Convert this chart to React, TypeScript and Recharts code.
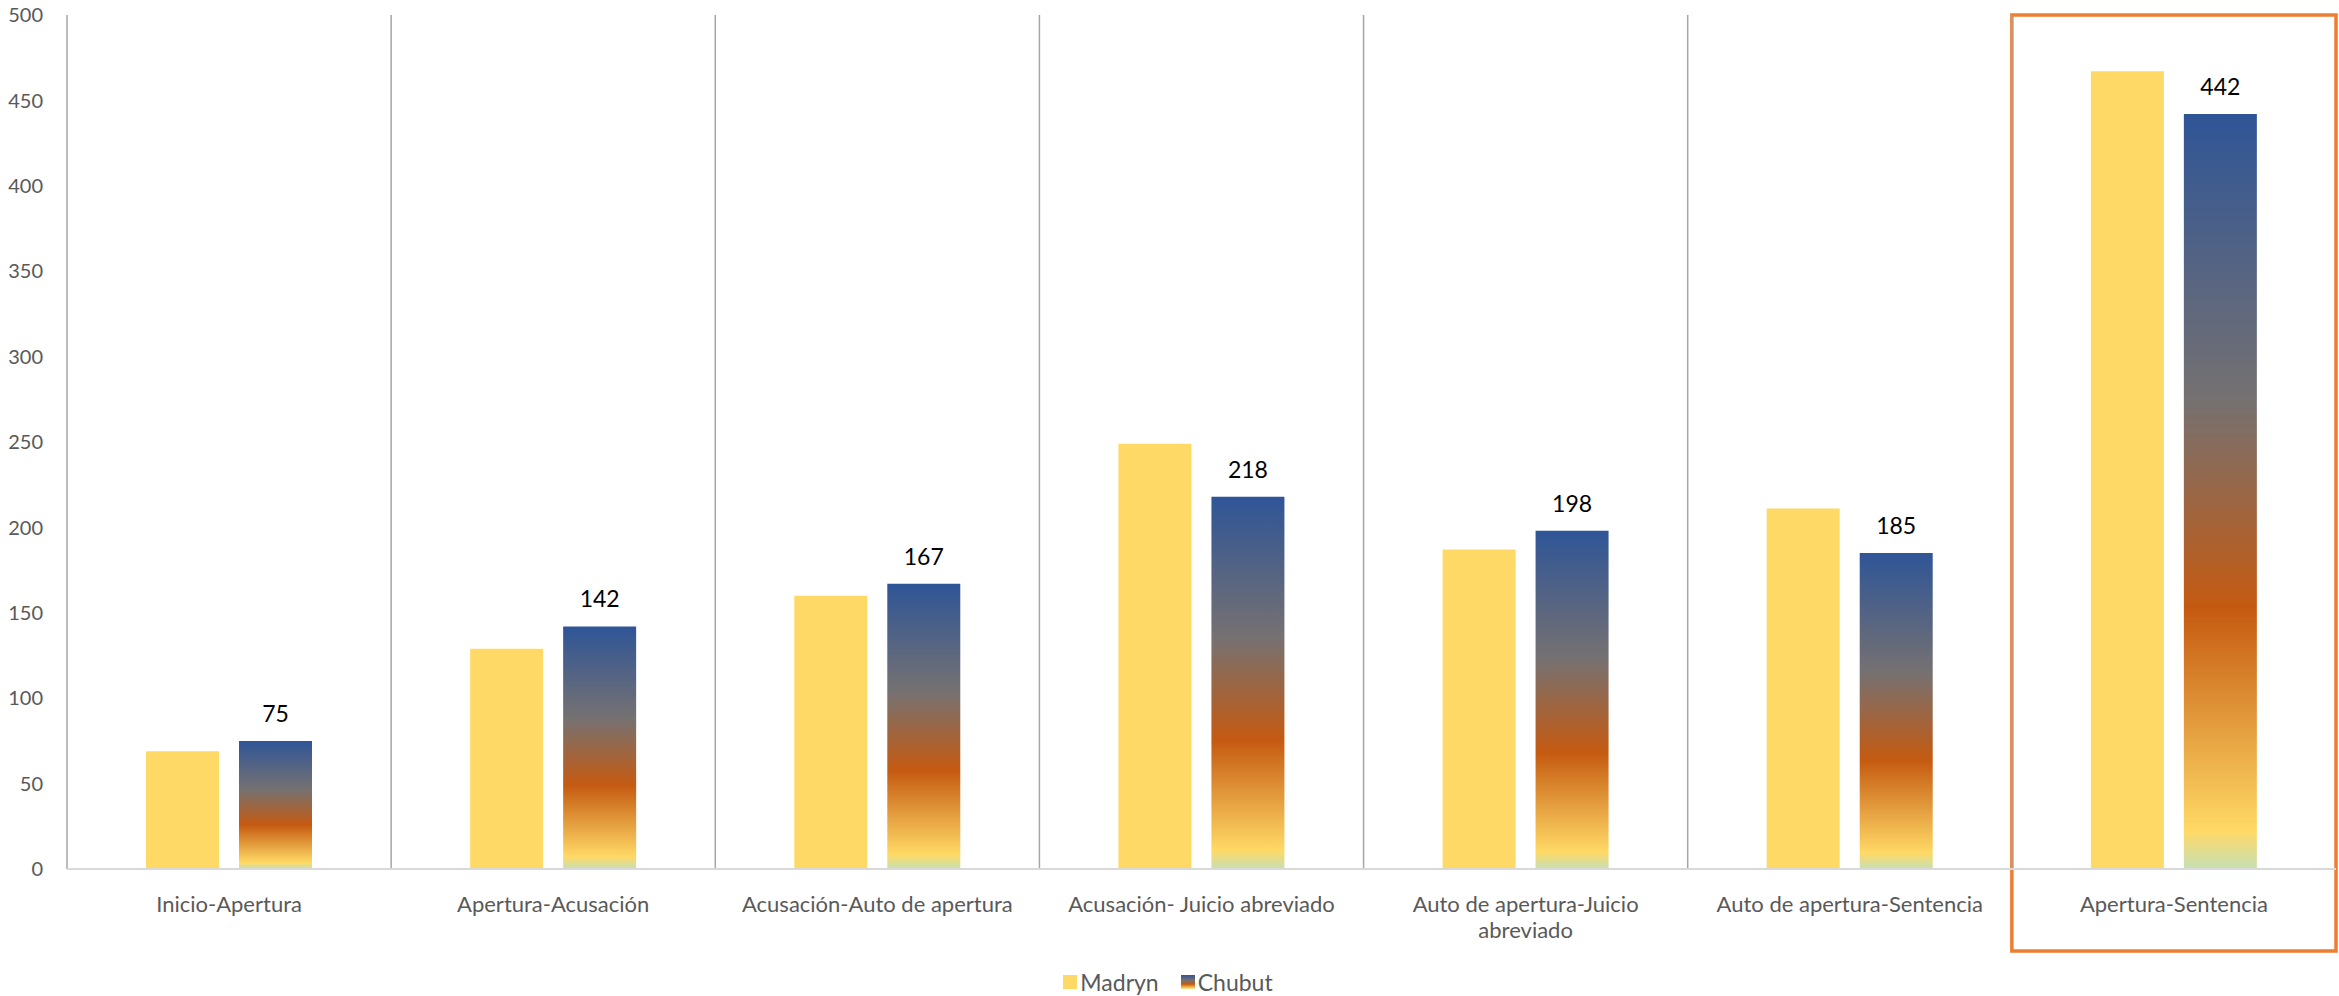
import React from 'react';
import { BarChart, Bar, XAxis, YAxis, Legend, LabelList, ReferenceLine, ReferenceArea } from 'recharts';

const categories = [
  'Inicio-Apertura',
  'Apertura-Acusación',
  'Acusación-Auto de apertura',
  'Acusación- Juicio abreviado',
  'Auto de apertura-Juicio abreviado',
  'Auto de apertura-Sentencia',
  'Apertura-Sentencia',
];
const madryn = [69, 129, 160, 249, 187, 211, 467];
const chubut = [75, 142, 167, 218, 198, 185, 442];
const yTicks = [0, 50, 100, 150, 200, 250, 300, 350, 400, 450, 500];
const highlighted = 'Apertura-Sentencia';

const data = categories.map((name, i) => ({ name, Madryn: madryn[i], Chubut: chubut[i] }));

const FONT = 'Lato, "Open Sans", sans-serif';
const GRAY_TEXT = '#595959';
const TICK_FONT_SIZE = 22;
const TICK_WRAP_WIDTH = 300;

let measureCtx: CanvasRenderingContext2D | null = null;
const measure = (s: string) => {
  if (!measureCtx) {
    const c = document.createElement('canvas');
    measureCtx = c.getContext('2d');
  }
  if (!measureCtx) return s.length * TICK_FONT_SIZE * 0.5;
  measureCtx.font = `${TICK_FONT_SIZE}px Lato, "Open Sans", sans-serif`;
  return measureCtx.measureText(s).width;
};

const wrap = (text: string, width: number) => {
  const words = text.split(' ');
  const lines: string[] = [];
  let cur = '';
  for (const w of words) {
    const next = cur ? cur + ' ' + w : w;
    if (cur && measure(next) > width) {
      lines.push(cur);
      cur = w;
    } else {
      cur = next;
    }
  }
  if (cur) lines.push(cur);
  return lines;
};

const CategoryTick = (props: any) => {
  const { x, y, payload } = props;
  const lines = wrap(String(payload.value), TICK_WRAP_WIDTH);
  return (
    <text x={x} y={y + 35} textAnchor="middle" fill={GRAY_TEXT} fontSize={TICK_FONT_SIZE} fontFamily={FONT}>
      {lines.map((l, i) => (
        <tspan key={i} x={x} dy={i === 0 ? 0 : 26}>
          {l}
        </tspan>
      ))}
    </text>
  );
};

const LegendContent = () => (
  <div style={{ display: 'flex', justifyContent: 'center', alignItems: 'center', fontFamily: FONT, fontSize: 23, color: GRAY_TEXT, height: 28 }}>
    <span style={{ display: 'inline-block', width: 14, height: 14, background: '#FFD966', marginRight: 3 }} />
    <span style={{ marginRight: 22 }}>Madryn</span>
    <span
      style={{
        display: 'inline-block',
        width: 14,
        height: 14,
        marginRight: 3,
        background: 'linear-gradient(to bottom, #2F5597 0%, #767171 38%, #C55A11 65%, #FFD966 95%, #C5E0B4 100%)',
      }}
    />
    <span>Chubut</span>
  </div>
);

export default function App() {
  return (
    <div style={{ position: 'absolute', left: 0, top: 0, width: 2339, height: 996, background: '#fff' }}>
      <BarChart
        width={2339}
        height={996}
        data={data}
        margin={{ top: 15, right: 3, left: 0, bottom: 0 }}
        barSize={73}
        barGap={20}
      >
        <defs>
          <linearGradient id="sunset" x1="0" y1="0" x2="0" y2="1">
            <stop offset="0%" stopColor="#2F5597" />
            <stop offset="38%" stopColor="#767171" />
            <stop offset="65.5%" stopColor="#C55A11" />
            <stop offset="95%" stopColor="#FFD966" />
            <stop offset="100%" stopColor="#C5E0B4" />
          </linearGradient>
        </defs>
        <XAxis
          dataKey="name"
          tickLine={false}
          axisLine={{ stroke: '#D9D9D9', strokeWidth: 2 }}
          tick={<CategoryTick />}
          interval={0}
          height={99}
        />
        <YAxis
          domain={[0, 500]}
          ticks={yTicks}
          width={67}
          axisLine={false}
          tickLine={false}
          tickSize={0}
          tickMargin={24}
          tick={{ fill: GRAY_TEXT, fontSize: 20, fontFamily: FONT }}
          interval={0}
        />
        {categories.map((c) => (
          <ReferenceLine key={c} x={c} position="start" stroke="#A6A6A6" strokeWidth={1.5} />
        ))}
        <Bar dataKey="Madryn" fill="#FFD966" isAnimationActive={false} />
        <Bar dataKey="Chubut" fill="url(#sunset)" isAnimationActive={false}>
          <LabelList dataKey="Chubut" position="top" offset={19} fill="#000" fontSize={23} fontFamily={FONT} />
        </Bar>
        <ReferenceArea
          x1={highlighted}
          x2={highlighted}
          y1={-48}
          y2={500}
          ifOverflow="visible"
          fill="none"
          stroke="#ED7D31"
          strokeWidth={3.5}
        />
        <Legend verticalAlign="bottom" content={<LegendContent />} wrapperStyle={{ bottom: 0 }} />
      </BarChart>
    </div>
  );
}
